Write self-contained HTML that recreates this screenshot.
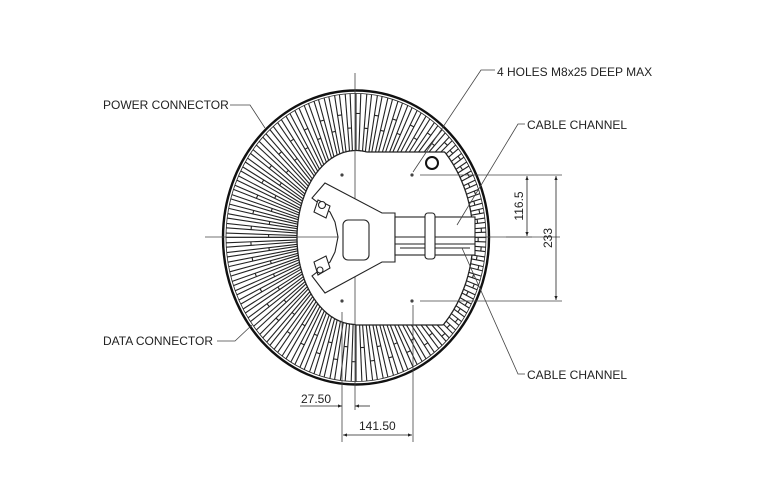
<!DOCTYPE html>
<html><head><meta charset="utf-8"><style>
html,body{margin:0;padding:0;background:#fff;}
svg{display:block}
text{font-family:"Liberation Sans",Arial,sans-serif;font-size:12px;fill:#222}
</style></head><body>
<svg id="s" width="767" height="501" viewBox="0 0 767 501" xmlns="http://www.w3.org/2000/svg">
<defs>
<marker id="a" viewBox="0 0 10 10" refX="10" refY="5" markerWidth="7" markerHeight="5" orient="auto-start-reverse"><path d="M0,1 L10,5 L0,9z" fill="#222"/></marker>
</defs>
<g id="fins" stroke="#222" stroke-width="1.1" fill="none"></g>
<ellipse cx="356" cy="237.5" rx="133" ry="147" fill="none" stroke="#111" stroke-width="2.4"/>
<path id="inner" fill="#fff" stroke="#222" stroke-width="1.3"/>
<!-- center lines -->
<line x1="355" y1="73" x2="355" y2="410" stroke="#444" stroke-width="0.8"/>
<line x1="205" y1="237" x2="560" y2="237" stroke="#444" stroke-width="0.8"/>
<!-- hub -->
<g stroke="#222" stroke-width="1.1" fill="#fff">
<path d="M325,183 L382,213 L395,213 L395,262 L382,262 L325,293 L312,276 L330,262 L335,252 L338,237 L335,222 L330,212 L312,198 Z"/>
<rect x="395" y="217" width="80" height="38"/>
<line x1="395" y1="237" x2="475" y2="237"/>
<line x1="395" y1="244" x2="475" y2="244"/>
<line x1="400" y1="248" x2="470" y2="248"/>
<rect x="425" y="213" width="10" height="46" rx="3"/>
<rect x="343" y="220" width="26" height="40" rx="5"/>
<path d="M318,200 L330,206 L326,218 L314,212Z"/>
<path d="M318,275 L330,268 L326,256 L314,262Z"/>
<circle cx="322" cy="205" r="3.5"/>
<circle cx="320" cy="270" r="3"/>
</g>
<!-- holes -->
<g fill="#444"><circle cx="342" cy="175" r="1.6"/><circle cx="412" cy="175" r="1.6"/><circle cx="342" cy="301" r="1.6"/><circle cx="412" cy="301" r="1.6"/></g>
<circle cx="432" cy="163" r="6" fill="none" stroke="#111" stroke-width="2"/>
<!-- leaders -->
<g stroke="#444" stroke-width="0.8" fill="none">
<polyline points="495,70 481,70 413,172"/>
<polyline points="525,124 518,124 457,225"/>
<polyline points="525,374 518,374 462,248"/>
<polyline points="230,105 250,105 265,128"/>
<polyline points="217,341 235,341 252,325"/>
<line x1="420" y1="175" x2="562" y2="175"/>
<line x1="420" y1="301" x2="562" y2="301"/>
<line x1="506" y1="237" x2="532" y2="237"/>
<line x1="342" y1="312" x2="342" y2="442"/>
<line x1="413" y1="305" x2="413" y2="442"/>
</g>
<g stroke="#222" stroke-width="0.8">
<line x1="527" y1="176" x2="527" y2="236" marker-start="url(#a)" marker-end="url(#a)"/>
<line x1="556" y1="176" x2="556" y2="300" marker-start="url(#a)" marker-end="url(#a)"/>
<line x1="300" y1="406" x2="342" y2="406" marker-end="url(#a)"/>
<line x1="370" y1="406" x2="355" y2="406" marker-end="url(#a)"/>
<line x1="343" y1="435" x2="412" y2="435" marker-start="url(#a)" marker-end="url(#a)"/>
</g>
<text x="497" y="76">4 HOLES M8x25 DEEP MAX</text>
<text x="527" y="129">CABLE CHANNEL</text>
<text x="527" y="379">CABLE CHANNEL</text>
<text x="103" y="109">POWER CONNECTOR</text>
<text x="103" y="345">DATA CONNECTOR</text>
<text x="301" y="403">27.50</text>
<text x="359" y="430">141.50</text>
<text transform="translate(523,206) rotate(-90)" text-anchor="middle">116.5</text>
<text transform="translate(552,238) rotate(-90)" text-anchor="middle">233</text>
</svg>
<script>
(function(){
var cx=356,cy=237.5,rx=133,ry=147;
function outerR(c,s){return 1/Math.sqrt((c*c)/(rx*rx)+(s*s)/(ry*ry));}
function innerR(t){
 var c=Math.cos(t),s=Math.sin(t);
 var re=1/Math.sqrt((c*c)/(59*59)+(s*s)/(87*87));
 var ro=outerR(c,s),ring=ro-16,rb=0;
 if(c>0){
  var ry1=Infinity;
  if(s<-1e-6) ry1=(152-cy)/s; else if(s>1e-6) ry1=(325-cy)/s;
  rb=Math.min(ry1,ring);
 }
 return Math.max(re,rb);
}
var g=document.getElementById('fins'),h='';
var N=84;
for(var i=0;i<N;i++){
 for(var k=0;k<2;k++){
 var t=(i+k*0.45)*2*Math.PI/N,c=Math.cos(t),s=Math.sin(t);
 var ro=outerR(c,s)-3,ri=innerR(t);
 h+='<line x1="'+(cx+c*ri).toFixed(1)+'" y1="'+(cy+s*ri).toFixed(1)+'" x2="'+(cx+c*ro).toFixed(1)+'" y2="'+(cy+s*ro).toFixed(1)+'"/>';
 }
 var t0=i*2*Math.PI/N,t1=(i+0.45)*2*Math.PI/N;
 var rr=innerR(t0),ro2=outerR(Math.cos(t0),Math.sin(t0))-3;
 var rm=rr+(ro2-rr)*(0.4+0.25*(i%2));
 h+='<line x1="'+(cx+Math.cos(t0)*rm).toFixed(1)+'" y1="'+(cy+Math.sin(t0)*rm).toFixed(1)+'" x2="'+(cx+Math.cos(t1)*rm).toFixed(1)+'" y2="'+(cy+Math.sin(t1)*rm).toFixed(1)+'"/>';
}
h+='<ellipse cx="356" cy="237.5" rx="130" ry="144" stroke-width="0.8"/>';
g.innerHTML=h;
var d='';
for(var j=0;j<=720;j++){
 var t=j*2*Math.PI/720,r=innerR(t);
 d+=(j?'L':'M')+(cx+Math.cos(t)*r).toFixed(1)+','+(cy+Math.sin(t)*r).toFixed(1);
}
document.getElementById('inner').setAttribute('d',d+'Z');
})();
</script>
</body></html>
